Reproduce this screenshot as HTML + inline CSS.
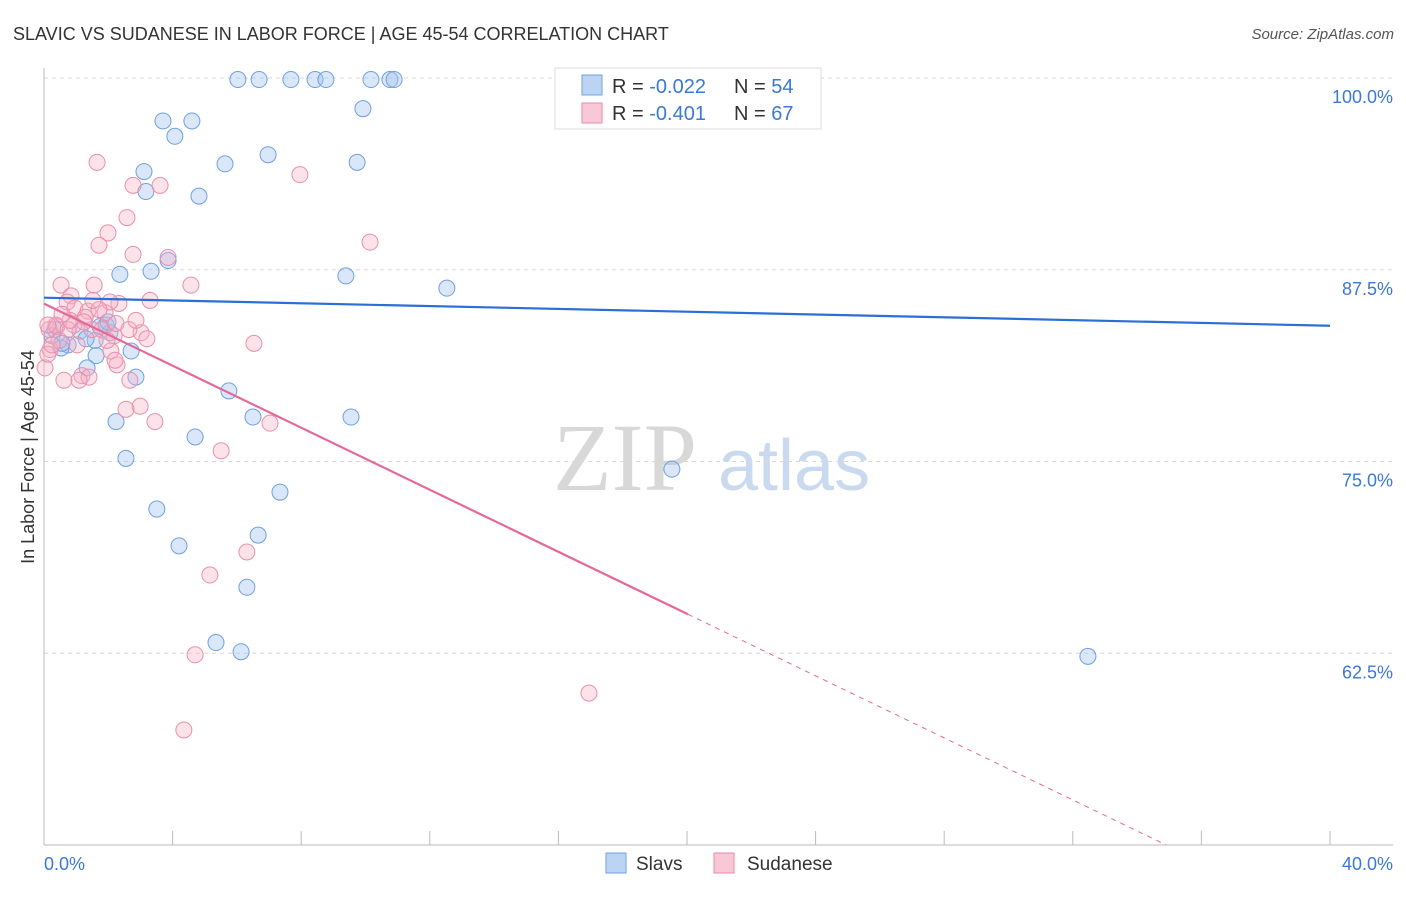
<!DOCTYPE html>
<html><head><meta charset="utf-8">
<style>
html,body{margin:0;padding:0;background:#fff;}
body{width:1406px;height:892px;overflow:hidden;font-family:"Liberation Sans",sans-serif;}
</style></head>
<body>
<svg id="chart" width="1406" height="892" xmlns="http://www.w3.org/2000/svg" font-family="Liberation Sans, sans-serif">
<text x="13" y="40" font-size="18" fill="#333">SLAVIC VS SUDANESE IN LABOR FORCE | AGE 45-54 CORRELATION CHART</text>
<text x="1394" y="39" font-size="15" fill="#555" font-style="italic" text-anchor="end">Source: ZipAtlas.com</text>
<g>
<text x="553" y="490" font-size="96" font-family="Liberation Serif, serif" fill="#d8d8d8">ZIP</text>
<text x="718" y="490" font-size="72" fill="#c9daf0">atlas</text>
</g>
<g id="grid"></g>
<g id="axes"></g>
<g id="points"></g>
<g id="trends"></g>
<text transform="translate(34,457) rotate(-90)" font-size="18" fill="#333" text-anchor="middle">In Labor Force | Age 45-54</text>
<g>
<rect x="555" y="68" width="266" height="61" fill="#fff" stroke="#ddd"/>
<rect x="582" y="75" width="20" height="20" fill="#bcd4f4" stroke="#6fa0e0"/>
<text x="612" y="93" font-size="20" fill="#333">R = <tspan fill="#3b78d8">-0.022</tspan></text>
<text x="734" y="93" font-size="20" fill="#333">N = <tspan fill="#3b78d8">54</tspan></text>
<rect x="582" y="103" width="20" height="20" fill="#f8c8d6" stroke="#e98aa8"/>
<text x="612" y="120" font-size="20" fill="#333">R = <tspan fill="#3b78d8">-0.401</tspan></text>
<text x="734" y="120" font-size="20" fill="#333">N = <tspan fill="#3b78d8">67</tspan></text>
</g>
<g>
<rect x="606" y="853" width="20" height="20" fill="#bcd4f4" stroke="#6fa0e0"/>
<text x="636" y="870" font-size="19" fill="#333">Slavs</text>
<rect x="714" y="853" width="20" height="20" fill="#f8c8d6" stroke="#e98aa8"/>
<text x="747" y="870" font-size="19" fill="#333">Sudanese</text>
</g>
</svg>
<script>
const yTicks=[100,87.5,75,62.5];
const yTickLabels=["100.0%","87.5%","75.0%","62.5%"];
const xTicks=[0,4,8,12,16,20,24,28,32,36,40];
const xEndLabels=["0.0%","40.0%"];
const slavsX=[6.03,6.69,7.68,8.43,8.77,10.17,10.76,10.89,9.92,3.70,4.60,4.07,6.97,5.63,3.11,9.74,3.17,4.82,3.86,2.36,3.33,9.39,12.53,0.34,1.59,1.93,0.75,0.53,1.12,2.05,2.71,1.62,1.34,2.86,5.75,2.24,6.50,9.55,4.70,2.55,19.53,7.34,3.51,6.66,4.20,6.31,5.35,6.13,32.47,1.74,0.25,0.56,1.99,1.31];
const slavsY=[99.9,99.9,99.9,99.9,99.9,99.9,99.9,99.9,98.0,97.2,97.2,96.2,95.0,94.4,93.9,94.5,92.6,92.3,88.1,87.2,87.4,87.1,86.3,83.6,82.9,83.9,82.6,82.4,83.5,83.4,82.2,81.9,81.1,80.5,79.6,77.6,77.9,77.9,76.6,75.2,74.5,73.0,71.9,70.2,69.5,66.8,63.2,62.6,62.3,83.8,83.2,82.7,84.1,83.0];
const sudX=[1.65,2.77,3.61,2.58,1.99,1.71,2.77,3.86,10.14,7.96,0.53,0.84,1.56,4.57,3.30,2.33,0.72,0.96,1.37,1.90,1.28,0.37,0.16,0.40,1.49,3.02,3.20,1.03,0.19,2.08,6.53,2.27,1.18,0.62,2.67,2.99,2.55,3.45,7.03,5.51,6.31,5.16,4.70,4.35,16.95,0.03,0.12,1.80,2.18,2.05,0.93,1.24,0.75,1.71,1.40,1.09,2.24,0.47,0.81,0.25,1.96,2.64,2.86,0.56,1.52,2.21,0.12];
const sudY=[94.5,93.0,93.0,90.9,89.9,89.1,88.5,88.3,89.3,93.7,86.5,85.8,86.5,86.5,85.5,85.3,85.4,85.0,84.8,84.7,84.4,83.9,83.6,83.8,83.6,83.4,83.0,82.6,82.3,82.2,82.7,81.3,80.6,80.3,80.3,78.6,78.4,77.6,77.5,75.7,69.1,67.6,62.4,57.5,59.9,81.1,82.0,83.6,83.2,85.4,83.9,84.1,83.6,84.9,80.5,80.3,84.0,82.9,84.2,82.6,82.9,83.6,84.2,84.6,85.5,81.6,83.9];
const slavsTrend=[85.68,83.85];
const sudTrend=[85.29,-1.011];
const sudSolidEnd=20.03;

const X0=44,X1=1330,Y0=845,Ytop=78;
const xs=v=>X0+(v/40)*(X1-X0);
const ys=v=>Y0-(v-50)/50*(Y0-Ytop);
const NS="http://www.w3.org/2000/svg";
function mk(tag,attrs,parent){const e=document.createElementNS(NS,tag);for(const k in attrs)e.setAttribute(k,attrs[k]);parent.appendChild(e);return e;}
const grid=document.getElementById('grid'),axes=document.getElementById('axes'),pts=document.getElementById('points'),tr=document.getElementById('trends');
yTicks.forEach((t,i)=>{
  const l=mk('line',{x1:X0,x2:1393,y1:ys(t),y2:ys(t),stroke:'#d8d8d8','stroke-dasharray':'4,4'},grid);
  
  
  const tx=mk('text',{x:1393,y:ys(t)+25,'font-size':18,fill:'#3b78d8','text-anchor':'end'},axes);
  tx.textContent=yTickLabels[i];
  
  
});
const ax=mk('line',{x1:X0,x2:1393,y1:Y0,y2:Y0,stroke:'#bbb'},axes);


const ay=mk('line',{x1:X0,x2:X0,y1:68,y2:Y0,stroke:'#bbb'},axes);


xTicks.forEach(t=>{
  const l=mk('line',{x1:xs(t),x2:xs(t),y1:Y0-14,y2:Y0,stroke:'#bbb'},axes);
  
  
});
const xl0=mk('text',{x:X0,y:870,'font-size':18,fill:'#3b78d8'},axes);xl0.textContent=xEndLabels[0];


const xl1=mk('text',{x:1393,y:870,'font-size':18,fill:'#3b78d8','text-anchor':'end'},axes);xl1.textContent=xEndLabels[1];


slavsX.forEach((x,i)=>{
  const c=mk('circle',{cx:xs(x),cy:ys(slavsY[i]),r:8,fill:'rgba(160,195,240,0.4)',stroke:'#6fa0e0','stroke-width':1},pts);
  
  
});
sudX.forEach((x,i)=>{
  const c=mk('circle',{cx:xs(x),cy:ys(sudY[i]),r:8,fill:'rgba(245,175,195,0.35)',stroke:'#ea8fac','stroke-width':1},pts);
  
  
});
const bl=mk('line',{x1:xs(0),y1:ys(slavsTrend[0]),x2:xs(40),y2:ys(slavsTrend[1]),stroke:'#2a6fd6','stroke-width':2.2},tr);


const pEnd=sudTrend[0]+sudTrend[1]*sudSolidEnd;
const pl=mk('line',{x1:xs(0),y1:ys(sudTrend[0]),x2:xs(sudSolidEnd),y2:ys(pEnd),stroke:'#e5689a','stroke-width':2.2},tr);


const xz=(50-sudTrend[0])/sudTrend[1];
const pd=mk('line',{x1:xs(sudSolidEnd),y1:ys(pEnd),x2:xs(xz),y2:ys(50),stroke:'#e5689a','stroke-width':1,'stroke-dasharray':'5,5'},tr);


</script>
</body></html>
